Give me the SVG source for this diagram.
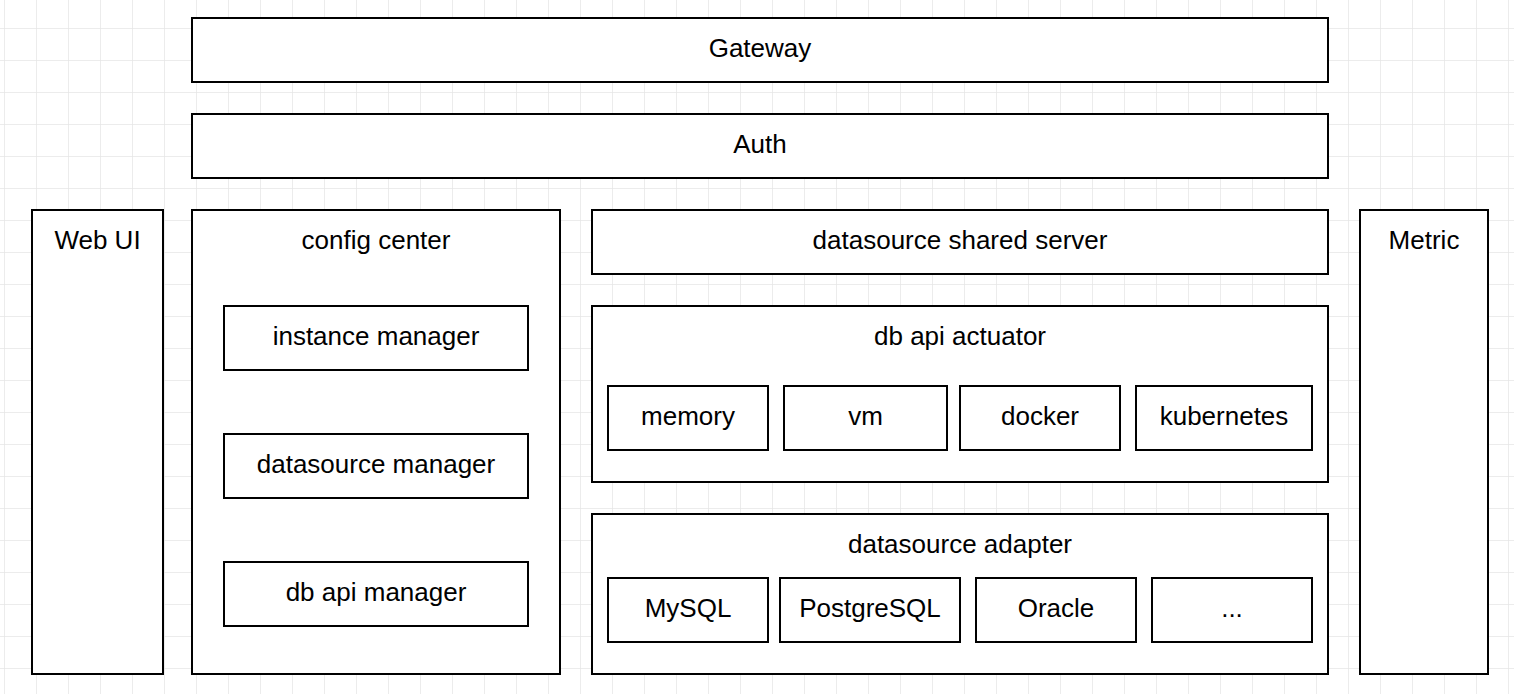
<svg xmlns="http://www.w3.org/2000/svg" width="1514" height="694" viewBox="0 0 1514 694">
<defs>
<pattern id="grid" x="4" y="28" width="32" height="32" patternUnits="userSpaceOnUse">
<path d="M0 0H32M0 0V32" fill="none" stroke="#e6e6e6" stroke-width="1.5"/>
</pattern>
<style>
.box{fill:#ffffff;stroke:#000000;stroke-width:2}
.t{font-family:"Liberation Sans",Arial,sans-serif;font-size:26px;fill:#000000;text-anchor:middle}
</style>
</defs>
<rect x="0" y="0" width="1514" height="694" fill="#ffffff"/>
<rect x="0" y="0" width="1514" height="694" fill="url(#grid)"/>
<g id="connectors"></g>
<g id="gateway"><rect class="box" x="192" y="18" width="1136" height="64"/><text class="t" x="760" y="57">Gateway</text></g>
<g id="auth"><rect class="box" x="192" y="114" width="1136" height="64"/><text class="t" x="760" y="153">Auth</text></g>
<g id="webui"><rect class="box" x="32" y="210" width="131" height="464"/><text class="t" x="97.5" y="249">Web UI</text></g>
<g id="configcenter"><rect class="box" x="192" y="210" width="368" height="464"/><text class="t" x="376" y="249">config center</text></g>
<g id="instancemanager"><rect class="box" x="224" y="306" width="304" height="64"/><text class="t" x="376" y="345">instance manager</text></g>
<g id="datasourcemanager"><rect class="box" x="224" y="434" width="304" height="64"/><text class="t" x="376" y="473">datasource manager</text></g>
<g id="dbapimanager"><rect class="box" x="224" y="562" width="304" height="64"/><text class="t" x="376" y="601">db api manager</text></g>
<g id="sharedserver"><rect class="box" x="592" y="210" width="736" height="64"/><text class="t" x="960" y="249">datasource shared server</text></g>
<g id="actuator"><rect class="box" x="592" y="306" width="736" height="176"/><text class="t" x="960" y="345">db api actuator</text></g>
<g id="memory"><rect class="box" x="608" y="386" width="160" height="64"/><text class="t" x="688" y="425">memory</text></g>
<g id="vm"><rect class="box" x="784" y="386" width="163" height="64"/><text class="t" x="865.5" y="425">vm</text></g>
<g id="docker"><rect class="box" x="960" y="386" width="160" height="64"/><text class="t" x="1040" y="425">docker</text></g>
<g id="kubernetes"><rect class="box" x="1136" y="386" width="176" height="64"/><text class="t" x="1224" y="425">kubernetes</text></g>
<g id="adapter"><rect class="box" x="592" y="514" width="736" height="160"/><text class="t" x="960" y="553">datasource adapter</text></g>
<g id="mysql"><rect class="box" x="608" y="578" width="160" height="64"/><text class="t" x="688" y="617">MySQL</text></g>
<g id="postgresql"><rect class="box" x="780" y="578" width="180" height="64"/><text class="t" x="870" y="617">PostgreSQL</text></g>
<g id="oracle"><rect class="box" x="976" y="578" width="160" height="64"/><text class="t" x="1056" y="617">Oracle</text></g>
<g id="more"><rect class="box" x="1152" y="578" width="160" height="64"/><text class="t" x="1232" y="617">...</text></g>
<g id="metric"><rect class="box" x="1360" y="210" width="128" height="464"/><text class="t" x="1424" y="249">Metric</text></g>
</svg>
